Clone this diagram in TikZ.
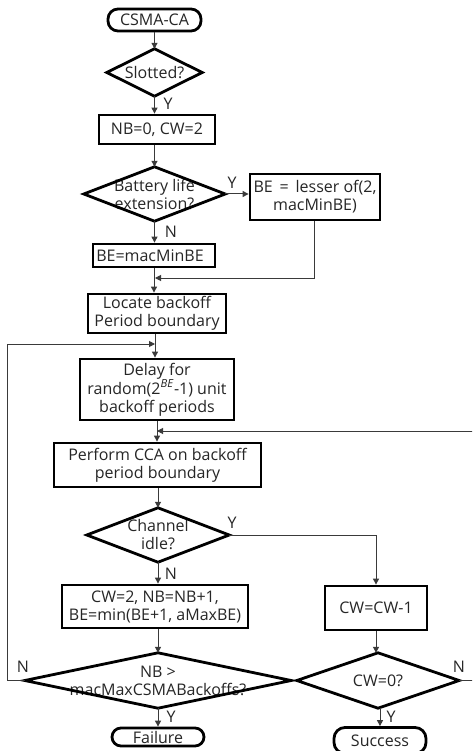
\documentclass[tikz,border=0pt]{standalone}
\usepackage{fontspec}
\setmainfont{Open Sans}
\usetikzlibrary{arrows.meta}
\definecolor{txt}{HTML}{262626}
\definecolor{ln}{HTML}{3A3A3A}
\tikzset{
  base/.style={font=\fontsize{16}{18}\selectfont, text=txt, align=center, inner sep=0pt},
  proc/.style={base, draw=black, line width=2.8pt, rectangle},
  term/.style={base, draw=black, line width=2.8pt, rectangle, rounded corners=10pt},
  dec/.style={base, rectangle},
  conn/.style={draw=ln, line width=1pt, -{Triangle[length=6pt,width=6pt]}},
  lbl/.style={base, font=\fontsize{16}{18}\selectfont},
}
\begin{document}
\begin{tikzpicture}[x=1pt,y=-1pt]
\clip (0,0) rectangle (472,751);
\fill[white] (0,0) rectangle (472,751);
% nodes
\node[term, minimum width=93pt, minimum height=22pt] (start) at (154.5,20) {CSMA-CA};
\node[dec, minimum width=95pt, minimum height=47pt] (slot) at (154.5,72.5) {Slotted?};
\node[proc, minimum width=116pt, minimum height=29pt] (nb0) at (157,129.5) {NB=0, CW=2};
\node[dec, minimum width=141pt, minimum height=54pt] (batt) at (154.5,194) {Battery life\\extension?};
\node[proc, minimum width=130pt, minimum height=46pt] (lesser) at (315,197) {BE\ \,=\ \,lesser of(2,\\macMinBE)};
\node[proc, minimum width=122pt, minimum height=23pt] (bemin) at (154,255.5) {BE=macMinBE\hspace{8pt}};
\node[proc, minimum width=138pt, minimum height=39pt] (locate) at (157,313.5) {Locate backoff\\Period boundary};
\node[proc, minimum width=154pt, minimum height=61pt] (delay) at (157,389.5) {Delay for\\random(2\textsuperscript{\textit{BE}}-1) unit\\backoff periods};
\node[proc, minimum width=207pt, minimum height=44pt] (perform) at (157.5,465) {Perform CCA on backoff\\period boundary};
\node[dec, minimum width=142pt, minimum height=54pt] (chan) at (158,535) {Channel\\idle?};
\node[proc, minimum width=186pt, minimum height=43pt] (cw2) at (155,606.5) {CW=2, NB=NB+1,\\BE=min(BE+1, aMaxBE)};
\node[proc, minimum width=102pt, minimum height=44pt] (cwm1) at (376,608) {CW=CW-1};
\node[dec, minimum width=266pt, minimum height=55pt] (nbmax) at (158,680.5) {NB >\\macMaxCSMABackoffs?};
\node[dec, minimum width=162pt, minimum height=55pt] (cw0) at (378,680.5) {CW=0?};
\node[term, minimum width=92pt, minimum height=18pt, rounded corners=9pt] (fail) at (158,737) {Failure};
\node[term, minimum width=92pt, minimum height=26pt, rounded corners=11pt] (succ) at (380,740.5) {Success};
% diamond outlines
\foreach \n in {slot,batt,chan,nbmax,cw0}
  \draw[black, line width=2.8pt, line join=miter] (\n.north) -- (\n.east) -- (\n.south) -- (\n.west) -- cycle;
% helper coordinates
\coordinate (m1) at (155,278);
\coordinate (m2) at (155,344);
\coordinate (m3) at (157,431);
\coordinate (lx) at (7,0);
\coordinate (rx) at (473,0);
% connectors
\draw[conn] (start.south) -- (slot.north);
\draw[conn] (slot.south) -- (slot.south |- nb0.north);
\draw[conn] (nb0.south -| batt.north) -- (batt.north);
\draw[conn] (batt.east) -- (batt.east -| lesser.west);
\draw[conn] (batt.south) -- (batt.south |- bemin.north);
\draw[conn] (bemin.south) -- (bemin.south |- locate.north);
\draw[conn] (lesser.south -| 314,0) -- (314,278) -- (m1);
\draw[conn] (locate.south -| m2) -- (m2 |- delay.north);
\draw[conn] (nbmax.west) -- (nbmax.west -| lx) -- (lx |- m2) -- (m2);
\draw[conn] (delay.south -| m3) -- (m3 |- perform.north);
\draw[conn] (cw0.east) -- (cw0.east -| rx) -- (rx |- m3) -- (m3);
\draw[conn] (perform.south -| chan.north) -- (chan.north);
\draw[conn] (chan.east) -- (chan.east -| cwm1.north) -- (cwm1.north);
\draw[conn] (chan.south) -- (chan.south |- cw2.north);
\draw[conn] (cw2.south -| nbmax.north) -- (nbmax.north);
\draw[conn] (nbmax.south) -- (nbmax.south |- fail.north);
\draw[conn] (cwm1.south) -- (cwm1.south |- cw0.north);
\draw[conn] (cw0.south -| succ.north) -- (succ.north);
% labels
\node[lbl] (ly1) at (168,104) {Y};
\node[lbl] (ly2) at (232,183) {Y};
\node[lbl] (ln1) at (171,232) {N};
\node[lbl] (ly3) at (232,523) {Y};
\node[lbl] (ln2) at (171,574) {N};
\node[lbl] (ln3) at (23,667) {N};
\node[lbl] (ln4) at (459,667) {N};
\node[lbl] (ly4) at (171,717) {Y};
\node[lbl] (ly5) at (391,717) {Y};
\end{tikzpicture}
\end{document}
